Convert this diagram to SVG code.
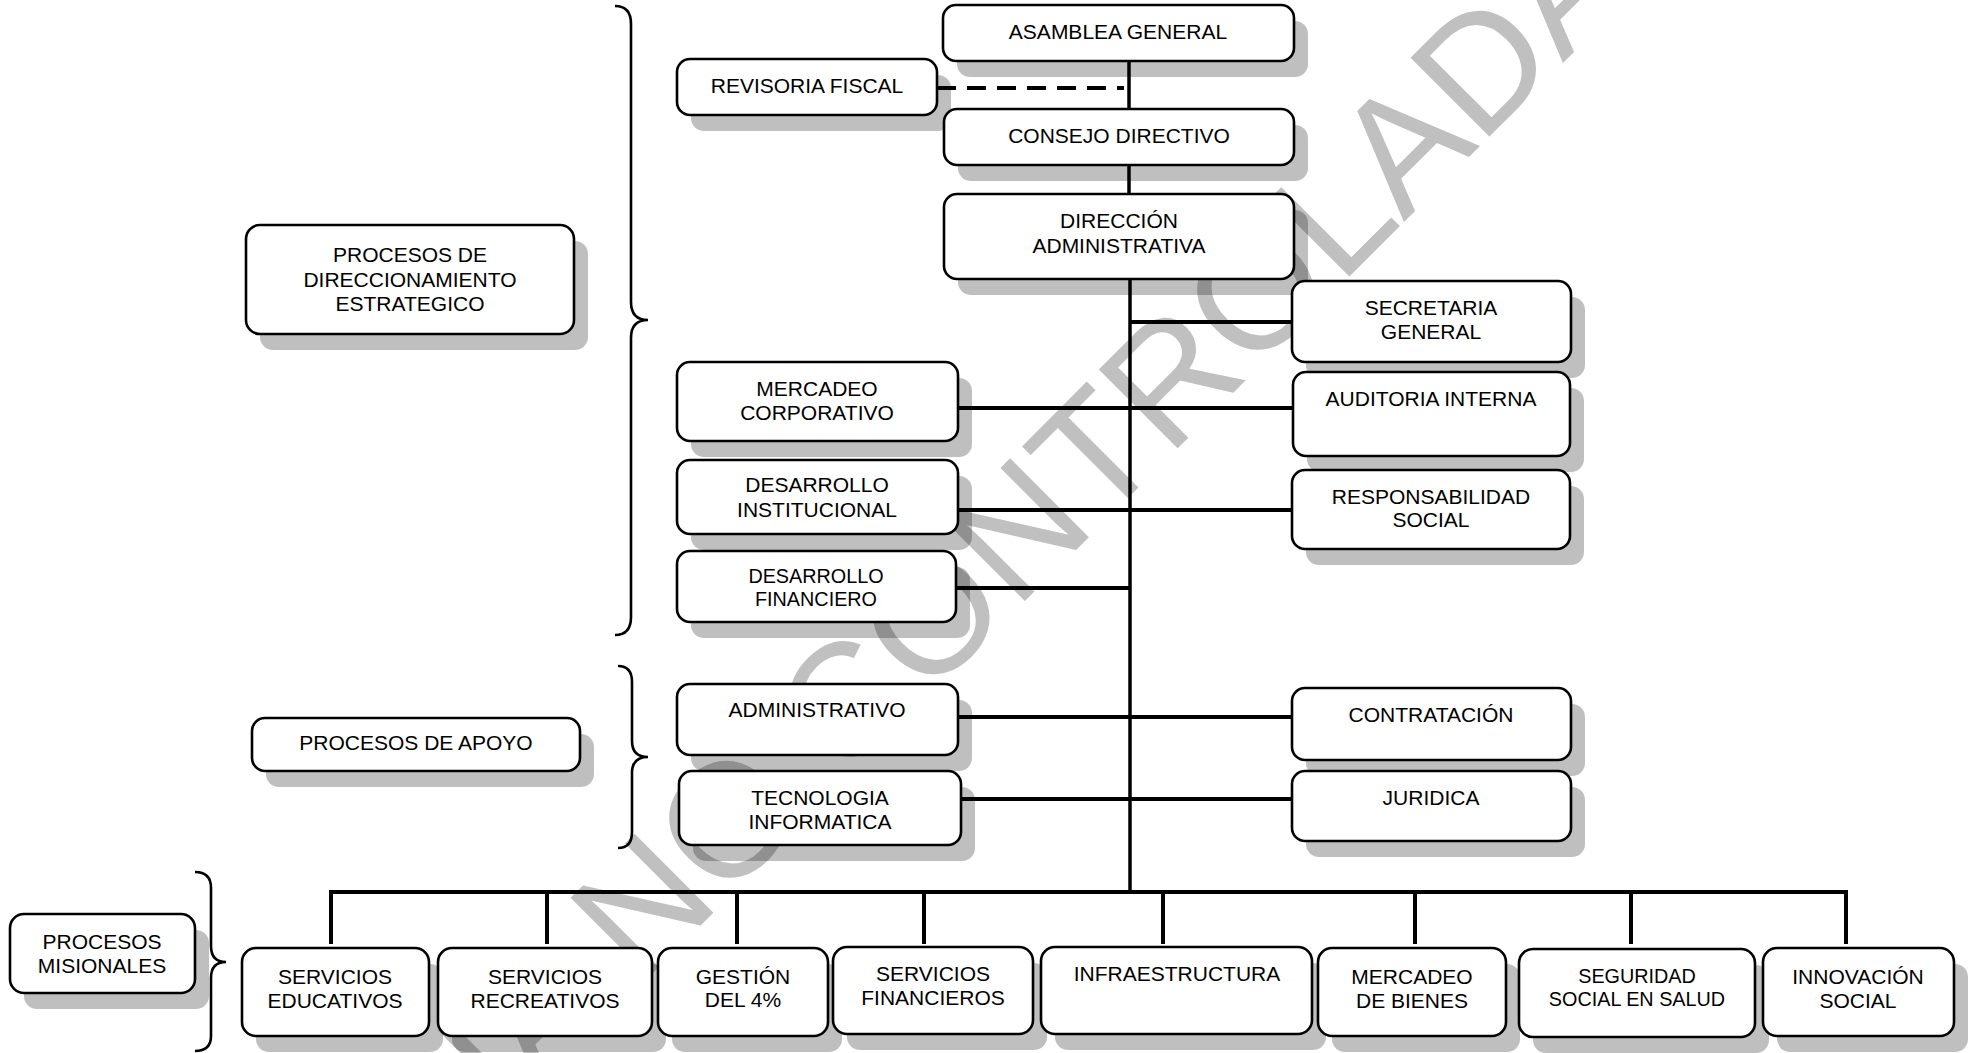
<svg xmlns="http://www.w3.org/2000/svg" width="1969" height="1053" viewBox="0 0 1969 1053">
<style>
.bx{fill:#fff;stroke:#000;stroke-width:2.6}
.sh{fill:#000;fill-opacity:0.25}
.t{font-family:"Liberation Sans",Arial,sans-serif;font-size:21px;fill:#000;text-anchor:middle}
.ts{font-size:19.8px}
.ln{stroke:#000;stroke-width:4;fill:none}
.vl{stroke:#000;stroke-width:3.5;fill:none}
.br{stroke:#000;stroke-width:2.6;fill:none}
.wm{font-family:"Liberation Sans",Arial,sans-serif;font-size:162px;fill:#c0c0c0}
</style>
<rect width="1969" height="1053" fill="#fff"/>
<g id="watermark">
<text class="wm" transform="translate(258,1368) rotate(-45)">COPIA NO CONTROLADA</text>
</g>
<g id="shadows">
<rect class="sh" x="957" y="21" width="351" height="56" rx="13"/>
<rect class="sh" x="691" y="75" width="260" height="56" rx="13"/>
<rect class="sh" x="958" y="125" width="350" height="56" rx="13"/>
<rect class="sh" x="958" y="210" width="350" height="85" rx="13"/>
<rect class="sh" x="1306" y="297" width="279" height="81" rx="13"/>
<rect class="sh" x="691" y="378" width="281" height="79" rx="13"/>
<rect class="sh" x="1307" y="388" width="277" height="84" rx="13"/>
<rect class="sh" x="691" y="476" width="281" height="74" rx="13"/>
<rect class="sh" x="1306" y="486" width="278" height="79" rx="13"/>
<rect class="sh" x="691" y="567" width="279" height="71" rx="13"/>
<rect class="sh" x="691" y="700" width="281" height="71" rx="13"/>
<rect class="sh" x="1306" y="704" width="279" height="72" rx="13"/>
<rect class="sh" x="693" y="787" width="282" height="74" rx="13"/>
<rect class="sh" x="1306" y="787" width="279" height="70" rx="13"/>
<rect class="sh" x="260" y="241" width="328" height="109" rx="13"/>
<rect class="sh" x="266" y="734" width="328" height="53" rx="13"/>
<rect class="sh" x="24" y="930" width="185" height="79" rx="13"/>
<rect class="sh" x="256" y="964" width="187" height="88" rx="13"/>
<rect class="sh" x="452" y="964" width="214" height="88" rx="13"/>
<rect class="sh" x="672" y="964" width="170" height="88" rx="13"/>
<rect class="sh" x="847" y="963" width="200" height="87" rx="13"/>
<rect class="sh" x="1055" y="963" width="271" height="87" rx="13"/>
<rect class="sh" x="1332" y="964" width="188" height="88" rx="13"/>
<rect class="sh" x="1533" y="965" width="236" height="88" rx="13"/>
<rect class="sh" x="1777" y="964" width="191" height="88" rx="13"/>
</g>
<g id="connectors">
<line class="vl" x1="1129" y1="61" x2="1129" y2="109"/>
<line class="ln" x1="937" y1="88" x2="1124" y2="88" stroke-dasharray="19 11"/>
<line class="vl" x1="1129" y1="165" x2="1129" y2="194"/>
<line class="vl" x1="1130" y1="279" x2="1130" y2="894"/>
<line class="ln" x1="1130" y1="322" x2="1292" y2="322"/>
<line class="ln" x1="958" y1="408" x2="1293" y2="408"/>
<line class="ln" x1="958" y1="510" x2="1292" y2="510"/>
<line class="ln" x1="956" y1="588" x2="1130" y2="588"/>
<line class="ln" x1="958" y1="717" x2="1292" y2="717"/>
<line class="ln" x1="961" y1="799" x2="1292" y2="799"/>
<path class="ln" d="M331,944 V892 H1846 V944"/>
<line class="ln" x1="547" y1="892" x2="547" y2="944"/>
<line class="ln" x1="737" y1="892" x2="737" y2="944"/>
<line class="ln" x1="924" y1="892" x2="924" y2="944"/>
<line class="ln" x1="1163" y1="892" x2="1163" y2="944"/>
<line class="ln" x1="1415" y1="892" x2="1415" y2="944"/>
<line class="ln" x1="1631" y1="892" x2="1631" y2="944"/>
</g>
<g id="braces">
<path class="br" d="M615,6 Q631,6 631,24 L631,302 Q631,320 648,320 Q631,320 631,338 L631,617 Q631,635 615,635"/>
<path class="br" d="M618,666 Q632,666 632,682 L632,741 Q632,757 648,757 Q632,757 632,773 L632,832 Q632,848 618,848"/>
<path class="br" d="M195,872 Q211,872 211,888 L211,946 Q211,962 226,962 Q211,962 211,978 L211,1036 Q211,1051 195,1051"/>
</g>
<g id="n-asamblea"><rect class="bx" x="943" y="5" width="351" height="56" rx="13"/><text class="t" x="1118" y="39">ASAMBLEA GENERAL</text></g>
<g id="n-revisoria"><rect class="bx" x="677" y="59" width="260" height="56" rx="13"/><text class="t" x="807" y="93">REVISORIA FISCAL</text></g>
<g id="n-consejo"><rect class="bx" x="944" y="109" width="350" height="56" rx="13"/><text class="t" x="1119" y="143">CONSEJO DIRECTIVO</text></g>
<g id="n-direccion"><rect class="bx" x="944" y="194" width="350" height="85" rx="13"/><text class="t" x="1119" y="228">DIRECCIÓN</text><text class="t" x="1119" y="253">ADMINISTRATIVA</text></g>
<g id="n-secretaria"><rect class="bx" x="1292" y="281" width="279" height="81" rx="13"/><text class="t" x="1431" y="315">SECRETARIA</text><text class="t" x="1431" y="339">GENERAL</text></g>
<g id="n-mercadeo-corp"><rect class="bx" x="677" y="362" width="281" height="79" rx="13"/><text class="t" x="817" y="396">MERCADEO</text><text class="t" x="817" y="420">CORPORATIVO</text></g>
<g id="n-auditoria"><rect class="bx" x="1293" y="372" width="277" height="84" rx="13"/><text class="t" x="1431" y="406">AUDITORIA INTERNA</text></g>
<g id="n-des-inst"><rect class="bx" x="677" y="460" width="281" height="74" rx="13"/><text class="t" x="817" y="492">DESARROLLO</text><text class="t" x="817" y="517">INSTITUCIONAL</text></g>
<g id="n-responsabilidad"><rect class="bx" x="1292" y="470" width="278" height="79" rx="13"/><text class="t" x="1431" y="504">RESPONSABILIDAD</text><text class="t" x="1431" y="527">SOCIAL</text></g>
<g id="n-des-fin"><rect class="bx" x="677" y="551" width="279" height="71" rx="13"/><text class="t ts" x="816" y="583">DESARROLLO</text><text class="t ts" x="816" y="606">FINANCIERO</text></g>
<g id="n-administrativo"><rect class="bx" x="677" y="684" width="281" height="71" rx="13"/><text class="t" x="817" y="717">ADMINISTRATIVO</text></g>
<g id="n-contratacion"><rect class="bx" x="1292" y="688" width="279" height="72" rx="13"/><text class="t" x="1431" y="722">CONTRATACIÓN</text></g>
<g id="n-tecnologia"><rect class="bx" x="679" y="771" width="282" height="74" rx="13"/><text class="t" x="820" y="805">TECNOLOGIA</text><text class="t" x="820" y="829">INFORMATICA</text></g>
<g id="n-juridica"><rect class="bx" x="1292" y="771" width="279" height="70" rx="13"/><text class="t" x="1431" y="805">JURIDICA</text></g>
<g id="n-proc-dir"><rect class="bx" x="246" y="225" width="328" height="109" rx="14"/><text class="t" x="410" y="262">PROCESOS DE</text><text class="t" x="410" y="287">DIRECCIONAMIENTO</text><text class="t" x="410" y="311">ESTRATEGICO</text></g>
<g id="n-proc-apoyo"><rect class="bx" x="252" y="718" width="328" height="53" rx="13"/><text class="t" x="416" y="750">PROCESOS DE APOYO</text></g>
<g id="n-proc-mis"><rect class="bx" x="10" y="914" width="185" height="79" rx="14"/><text class="t" x="102" y="949">PROCESOS</text><text class="t" x="102" y="973">MISIONALES</text></g>
<g id="n-serv-edu"><rect class="bx" x="242" y="948" width="187" height="88" rx="14"/><text class="t" x="335" y="984">SERVICIOS</text><text class="t" x="335" y="1008">EDUCATIVOS</text></g>
<g id="n-serv-rec"><rect class="bx" x="438" y="948" width="214" height="88" rx="14"/><text class="t" x="545" y="984">SERVICIOS</text><text class="t" x="545" y="1008">RECREATIVOS</text></g>
<g id="n-gestion"><rect class="bx" x="658" y="948" width="170" height="88" rx="14"/><text class="t" x="743" y="984">GESTIÓN</text><text class="t" x="743" y="1007">DEL 4%</text></g>
<g id="n-serv-fin"><rect class="bx" x="833" y="947" width="200" height="87" rx="14"/><text class="t" x="933" y="981">SERVICIOS</text><text class="t" x="933" y="1005">FINANCIEROS</text></g>
<g id="n-infra"><rect class="bx" x="1041" y="947" width="271" height="87" rx="14"/><text class="t" x="1177" y="981">INFRAESTRUCTURA</text></g>
<g id="n-merc-bienes"><rect class="bx" x="1318" y="948" width="188" height="88" rx="14"/><text class="t" x="1412" y="984">MERCADEO</text><text class="t" x="1412" y="1008">DE BIENES</text></g>
<g id="n-seguridad"><rect class="bx" x="1519" y="949" width="236" height="88" rx="14"/><text class="t ts" x="1637" y="983">SEGURIDAD</text><text class="t ts" x="1637" y="1006">SOCIAL EN SALUD</text></g>
<g id="n-innovacion"><rect class="bx" x="1763" y="948" width="191" height="88" rx="14"/><text class="t" x="1858" y="984">INNOVACIÓN</text><text class="t" x="1858" y="1008">SOCIAL</text></g>
</svg>
